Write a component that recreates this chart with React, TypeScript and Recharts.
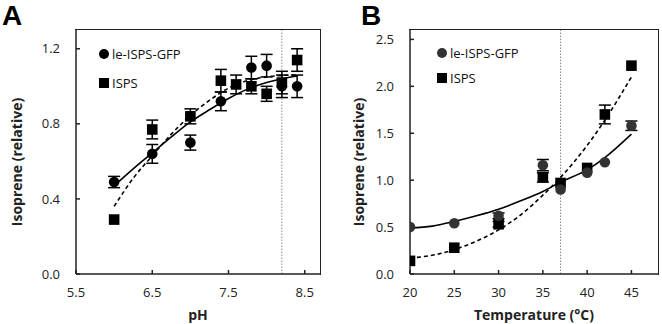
import { ComposedChart, Scatter, Line, XAxis, YAxis, ReferenceLine, ErrorBar } from "recharts";

// Panel A: pH
const phGfp = [
  { x: 6.0, y: 0.49, err: 0.03 },
  { x: 6.5, y: 0.64, err: 0.05 },
  { x: 7.0, y: 0.70, err: 0.04 },
  { x: 7.4, y: 0.92, err: 0.05 },
  { x: 7.8, y: 1.10, err: 0.06 },
  { x: 8.0, y: 1.11, err: 0.06 },
  { x: 8.2, y: 1.00, err: 0.06 },
  { x: 8.4, y: 1.00, err: 0.06 },
];
const phIsps = [
  { x: 6.0, y: 0.29, err: 0 },
  { x: 6.5, y: 0.77, err: 0.05 },
  { x: 7.0, y: 0.84, err: 0.04 },
  { x: 7.4, y: 1.03, err: 0.06 },
  { x: 7.6, y: 1.01, err: 0.05 },
  { x: 7.8, y: 1.00, err: 0.04 },
  { x: 8.0, y: 0.96, err: 0.04 },
  { x: 8.2, y: 1.02, err: 0.06 },
  { x: 8.4, y: 1.14, err: 0.06 },
];
const phGfpFit = [
  { x: 6.0, y: 0.47 }, { x: 6.25, y: 0.56 }, { x: 6.5, y: 0.645 }, { x: 6.75, y: 0.73 },
  { x: 7.0, y: 0.81 }, { x: 7.25, y: 0.875 }, { x: 7.5, y: 0.935 }, { x: 7.75, y: 0.985 },
  { x: 8.0, y: 1.02 }, { x: 8.2, y: 1.04 }, { x: 8.4, y: 1.055 },
];
const phIspsFit = [
  { x: 6.0, y: 0.36 }, { x: 6.25, y: 0.51 }, { x: 6.5, y: 0.63 }, { x: 6.75, y: 0.745 },
  { x: 7.0, y: 0.845 }, { x: 7.25, y: 0.925 }, { x: 7.5, y: 0.99 }, { x: 7.75, y: 1.03 },
  { x: 8.0, y: 1.05 }, { x: 8.2, y: 1.058 }, { x: 8.4, y: 1.06 },
];
const phTicks = [5.5, 6.5, 7.5, 8.5];
const phYTicks = [0, 0.4, 0.8, 1.2];

// Panel B: temperature
const tGfp = [
  { x: 20, y: 0.50, err: 0 },
  { x: 25, y: 0.54, err: 0 },
  { x: 30, y: 0.62, err: 0.03 },
  { x: 35, y: 1.16, err: 0.06 },
  { x: 37, y: 0.90, err: 0 },
  { x: 40, y: 1.08, err: 0 },
  { x: 42, y: 1.19, err: 0 },
  { x: 45, y: 1.58, err: 0.05 },
];
const tIsps = [
  { x: 20, y: 0.14, err: 0 },
  { x: 25, y: 0.28, err: 0 },
  { x: 30, y: 0.53, err: 0.03 },
  { x: 35, y: 1.03, err: 0.05 },
  { x: 37, y: 0.97, err: 0 },
  { x: 40, y: 1.13, err: 0 },
  { x: 42, y: 1.70, err: 0.1 },
  { x: 45, y: 2.22, err: 0 },
];
const tGfpFit = [
  { x: 20, y: 0.49 }, { x: 22.5, y: 0.51 }, { x: 25, y: 0.56 }, { x: 27.5, y: 0.62 },
  { x: 30, y: 0.69 }, { x: 32.5, y: 0.78 }, { x: 35, y: 0.88 }, { x: 37, y: 0.98 },
  { x: 40, y: 1.11 }, { x: 42, y: 1.24 }, { x: 45, y: 1.49 },
];
const tIspsFit = [
  { x: 20, y: 0.17 }, { x: 22.5, y: 0.2 }, { x: 25, y: 0.26 }, { x: 27.5, y: 0.35 },
  { x: 30, y: 0.47 }, { x: 32.5, y: 0.63 }, { x: 35, y: 0.84 }, { x: 37, y: 1.03 },
  { x: 40, y: 1.37 }, { x: 42, y: 1.64 }, { x: 45, y: 2.1 },
];
const tTicks = [20, 25, 30, 35, 40, 45];
const tYTicks = [0, 0.5, 1.0, 1.5, 2.0, 2.5];

const FONT = "'Open Sans', 'DejaVu Sans', sans-serif";
const tickStyle = { fontSize: 13, fill: "#222", fontFamily: FONT };
const frame = { stroke: "#222", strokeWidth: 1.5 };
const W = 331;
const H = 324;
const TOP = 30;
const XAXIS_H = 50;

const circleShape = (color: string) => (p: any) => <circle cx={p.cx} cy={p.cy} r={5.3} fill={color} />;
const squareShape = (p: any) => <rect x={p.cx - 5.3} y={p.cy - 5.3} width={10.6} height={10.6} fill="#000" />;

function Legend({ left, top, gap, circleColor }: { left: number; top: number; gap: number; circleColor: string }) {
  const row = { display: "flex", alignItems: "center", height: 16, fontSize: 13, fontFamily: FONT, color: "#111" };
  return (
    <div style={{ position: "absolute", left, top }}>
      <div style={row}>
        <svg width={12} height={12} style={{ marginRight: 2 }}><circle cx={6} cy={6} r={5} fill={circleColor} /></svg>
        le-ISPS-GFP
      </div>
      <div style={{ ...row, marginTop: gap - 16 }}>
        <svg width={12} height={12} style={{ marginRight: 2 }}><rect x={1} y={1} width={10} height={10} fill="#000" /></svg>
        ISPS
      </div>
    </div>
  );
}

function Panel(props: {
  gfp: any[]; isps: any[]; gfpFit: any[]; ispsFit: any[];
  xDomain: [number, number]; yDomain: [number, number];
  xTicks: number[]; yTicks: number[]; xFmt: (v: number) => string;
  refX: number; xLabel: string; yAxisWidth: number; rightMargin: number;
  circleColor: string; yLabelX: number;
}) {
  const p = props;
  return (
    <div style={{ position: "relative", width: W, height: H }}>
      <ComposedChart width={W} height={H} margin={{ top: TOP, right: p.rightMargin, left: 0, bottom: 0 }}>
        <XAxis
          type="number" dataKey="x" domain={p.xDomain} ticks={p.xTicks} allowDataOverflow
          tickFormatter={p.xFmt} tick={tickStyle} tickSize={-4} tickMargin={18}
          axisLine={frame} tickLine={frame} height={XAXIS_H}
          label={{
            content: () => (
              <text x={p.yAxisWidth + (W - p.yAxisWidth - p.rightMargin) / 2} y={314} textAnchor="middle" dominantBaseline="central"
                style={{ fontSize: 14, fontWeight: 700, fontFamily: FONT, fill: "#222" }}>{p.xLabel}</text>
            ),
          }}
        />
        <YAxis
          type="number" dataKey="y" domain={p.yDomain} ticks={p.yTicks} allowDataOverflow
          tickFormatter={(v: number) => v.toFixed(1)} tick={tickStyle} tickSize={-4} tickMargin={20}
          axisLine={frame} tickLine={frame} width={p.yAxisWidth}
          label={{
            content: () => (
              <text x={p.yLabelX} y={162} transform={`rotate(-90 ${p.yLabelX} 162)`} textAnchor="middle" dominantBaseline="central"
                style={{ fontSize: 14, fontWeight: 700, fontFamily: FONT, fill: "#222" }}>Isoprene (relative)</text>
            ),
          }}
        />
        <ReferenceLine x={p.refX} stroke="#888" strokeDasharray="1.5 1.5" strokeWidth={1} />
        <Line data={p.gfpFit} dataKey="y" type="monotone" stroke="#000" strokeWidth={1.6} dot={false} isAnimationActive={false} />
        <Line data={p.ispsFit} dataKey="y" type="monotone" stroke="#000" strokeWidth={1.6} strokeDasharray="4 3" dot={false} isAnimationActive={false} />
        <Scatter data={p.isps} dataKey="y" shape={squareShape} isAnimationActive={false}>
          <ErrorBar dataKey="err" direction="y" width={6} stroke="#000" strokeWidth={1.5} />
        </Scatter>
        <Scatter data={p.gfp} dataKey="y" shape={circleShape(p.circleColor)} isAnimationActive={false}>
          <ErrorBar dataKey="err" direction="y" width={6} stroke="#000" strokeWidth={1.5} />
        </Scatter>
      </ComposedChart>
      {/* plot frame (top and right edges) */}
      <div style={{
        position: "absolute", pointerEvents: "none", boxSizing: "border-box",
        left: p.yAxisWidth - 0.75, top: TOP - 0.75,
        width: W - p.yAxisWidth - p.rightMargin + 1.5, height: H - TOP - XAXIS_H + 1.5,
        borderTop: "1.5px solid #222", borderRight: "1.5px solid #222",
      }} />
    </div>
  );
}

export default function App() {
  const letter = { position: "absolute" as const, top: 0, fontSize: 28, fontWeight: 700, fontFamily: "'Liberation Sans', Arial, sans-serif", lineHeight: "normal" };
  return (
    <div style={{ position: "absolute", left: 0, top: 0, width: 662, height: 324, background: "#fff", overflow: "hidden" }}>
      <div style={{ position: "absolute", left: 0, top: 0 }}>
        <Panel gfp={phGfp} isps={phIsps} gfpFit={phGfpFit} ispsFit={phIspsFit}
          xDomain={[5.5, 8.7]} yDomain={[0, 1.3]} xTicks={phTicks} yTicks={phYTicks}
          xFmt={(v) => v.toFixed(1)} refX={8.2} xLabel="pH" yAxisWidth={76} rightMargin={11}
          circleColor="#000" yLabelX={16} />
      </div>
      <div style={{ position: "absolute", left: 331, top: 0 }}>
        <Panel gfp={tGfp} isps={tIsps} gfpFit={tGfpFit} ispsFit={tIspsFit}
          xDomain={[20, 48]} yDomain={[0, 2.6]} xTicks={tTicks} yTicks={tYTicks}
          xFmt={(v) => String(v)} refX={37} xLabel="Temperature (°C)" yAxisWidth={79} rightMargin={4}
          circleColor="#333" yLabelX={27} />
      </div>
      <Legend left={98} top={46} gap={29} circleColor="#000" />
      <Legend left={436} top={45} gap={25} circleColor="#333" />
      <div style={{ ...letter, left: 2 }}>A</div>
      <div style={{ ...letter, left: 361 }}>B</div>
    </div>
  );
}
